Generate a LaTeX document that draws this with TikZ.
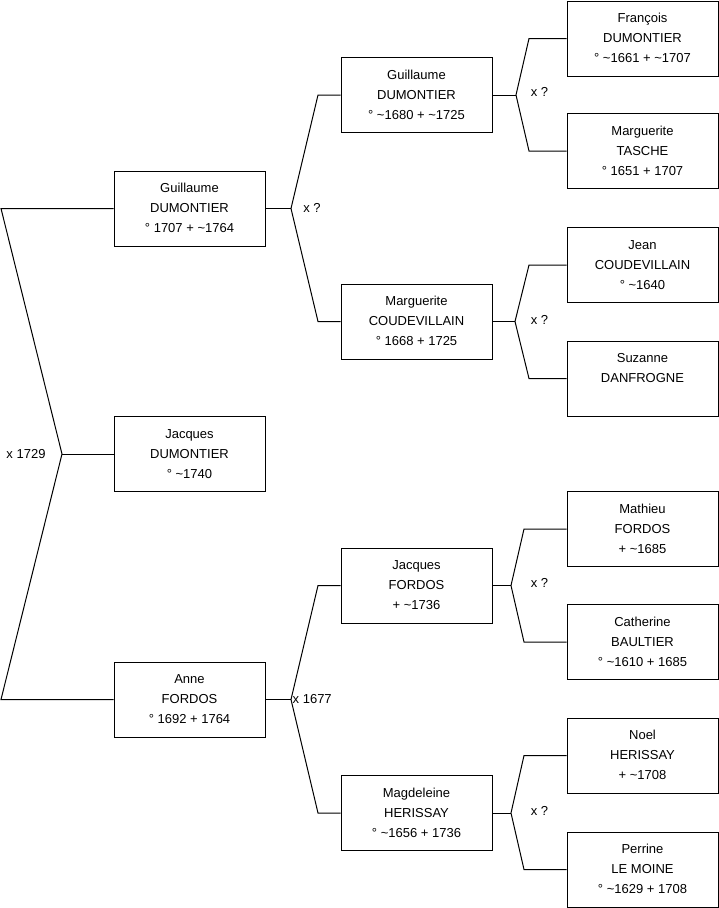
\documentclass[tikz,border=0pt]{standalone}
\usepackage{fontspec}
\setmainfont{Liberation Sans}
\newcommand{\tl}[3]{#1\strut\\#2\strut\\#3\strut}
\newcommand{\tld}{\textasciitilde}
\begin{document}
\begin{tikzpicture}[x=1pt,y=-1pt,
  person/.style={draw=black,line width=1pt,minimum width=151pt,minimum height=75pt,inner sep=0pt,align=center,font=\fontsize{13}{20}\selectfont},
  link/.style={draw=black,line width=1pt},
  lbl/.style={inner sep=0pt,font=\fontsize{13}{16}\selectfont}]
\useasboundingbox (0,0) rectangle (719,908);
% generation 1
\node[person] (g1) at (189.5,208.5) {\tl{Guillaume}{DUMONTIER}{° 1707 + \tld1764}};
\node[person] (j1) at (189.5,454) {\tl{Jacques}{DUMONTIER}{° \tld1740}};
\node[person] (a1) at (189.5,699.5) {\tl{Anne}{FORDOS}{° 1692 + 1764}};
% generation 2
\node[person] (g2) at (416.5,95) {\tl{Guillaume}{DUMONTIER}{° \tld1680 + \tld1725}};
\node[person] (m2) at (416.5,321.5) {\tl{Marguerite}{COUDEVILLAIN}{° 1668 + 1725}};
\node[person] (jf) at (416.5,585.5) {\tl{Jacques}{FORDOS}{+ \tld1736}};
\node[person] (mh) at (416.5,813) {\tl{Magdeleine}{HERISSAY}{° \tld1656 + 1736}};
% generation 3
\node[person] (fd) at (642.5,38.5) {\tl{François}{DUMONTIER}{° \tld1661 + \tld1707}};
\node[person] (mt) at (642.5,151) {\tl{Marguerite}{TASCHE}{° 1651 + 1707}};
\node[person] (jc) at (642.5,265) {\tl{Jean}{COUDEVILLAIN}{° \tld1640}};
\node[person] (sd) at (642.5,378.5) {\tl{Suzanne}{DANFROGNE}{}};
\node[person] (mf) at (642.5,529) {\tl{Mathieu}{FORDOS}{+ \tld1685}};
\node[person] (cb) at (642.5,642) {\tl{Catherine}{BAULTIER}{° \tld1610 + 1685}};
\node[person] (nh) at (642.5,755.5) {\tl{Noel}{HERISSAY}{+ \tld1708}};
\node[person] (pl) at (642.5,869.5) {\tl{Perrine}{LE MOINE}{° \tld1629 + 1708}};
% root fork
\coordinate (r) at (62,454);
\coordinate (rt) at (1,208.5);
\coordinate (rb) at (1,699.5);
\draw[link] (g1.west) -- (rt) -- (r) -- (rb) -- (a1.west);
\draw[link] (r) -- (j1.west);
\node[lbl] (l0) at (26,454) {x 1729};
% gen1 upper fork
\coordinate (f1) at (291,208.5);
\coordinate (f1t) at (318,95);
\coordinate (f1b) at (318,321.5);
\draw[link] (g1.east) -- (f1);
\draw[link] (g2.west) -- (f1t) -- (f1) -- (f1b) -- (m2.west);
\node[lbl] (l1) at (312,208) {x ?};
% gen1 lower fork
\coordinate (f2) at (291,699.5);
\coordinate (f2t) at (318,585.5);
\coordinate (f2b) at (318,813);
\draw[link] (a1.east) -- (f2);
\draw[link] (jf.west) -- (f2t) -- (f2) -- (f2b) -- (mh.west);
\node[lbl,anchor=west] (l2) at (292.5,699) {x 1677};
% gen2 forks
\coordinate (f3) at (516,95);
\coordinate (f3t) at (529,38.5);
\coordinate (f3b) at (529,151);
\draw[link] (g2.east) -- (f3);
\draw[link] (fd.west) -- (f3t) -- (f3) -- (f3b) -- (mt.west);
\node[lbl] (l3) at (539.5,92) {x ?};
\coordinate (f4) at (515,321.5);
\coordinate (f4t) at (529,265);
\coordinate (f4b) at (529,378.5);
\draw[link] (m2.east) -- (f4);
\draw[link] (jc.west) -- (f4t) -- (f4) -- (f4b) -- (sd.west);
\node[lbl] (l4) at (539.5,320) {x ?};
\coordinate (f5) at (511,585.5);
\coordinate (f5t) at (524,529);
\coordinate (f5b) at (524,642);
\draw[link] (jf.east) -- (f5);
\draw[link] (mf.west) -- (f5t) -- (f5) -- (f5b) -- (cb.west);
\node[lbl] (l5) at (539.5,583) {x ?};
\coordinate (f6) at (511,813);
\coordinate (f6t) at (524,755.5);
\coordinate (f6b) at (524,869.5);
\draw[link] (mh.east) -- (f6);
\draw[link] (nh.west) -- (f6t) -- (f6) -- (f6b) -- (pl.west);
\node[lbl] (l6) at (539.5,811) {x ?};
\end{tikzpicture}
\end{document}
